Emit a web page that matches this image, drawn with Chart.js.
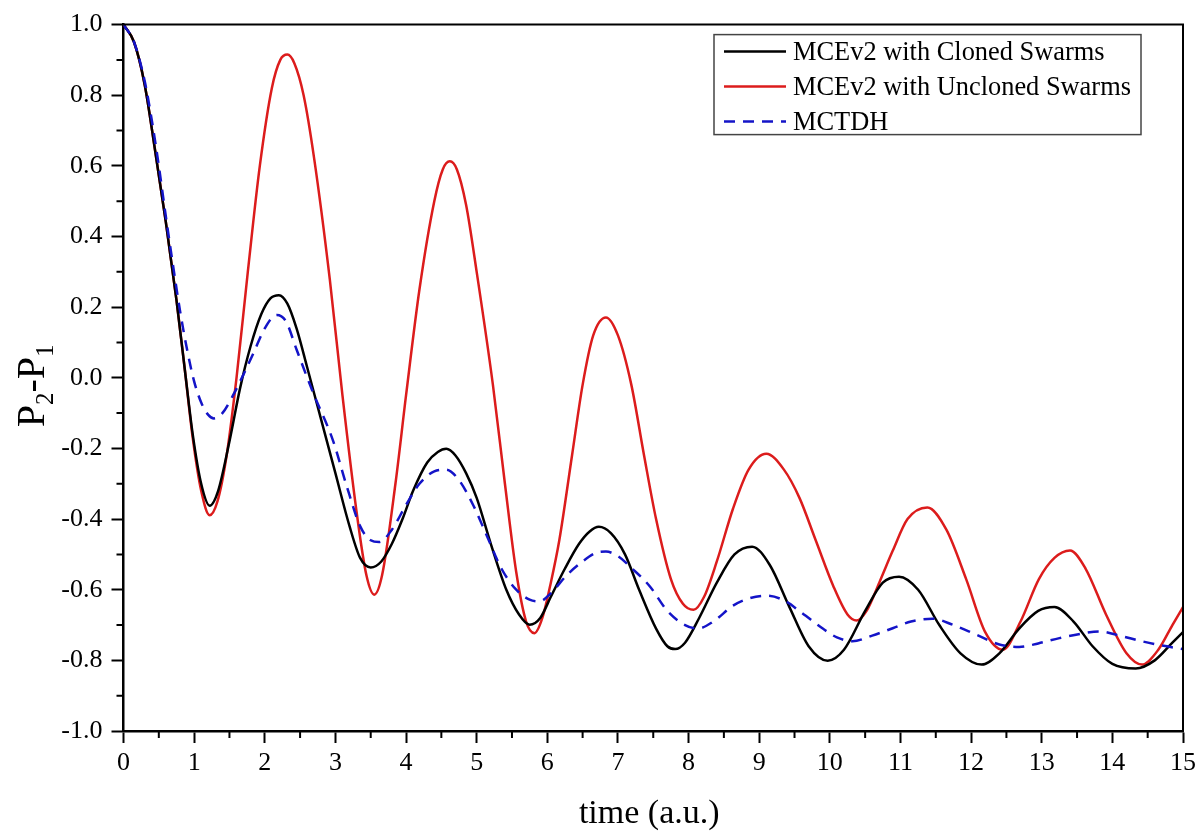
<!DOCTYPE html>
<html>
<head>
<meta charset="utf-8">
<title>P2-P1 vs time</title>
<script src="https://cdn.jsdelivr.net/npm/chart.js@4.4.1/dist/chart.umd.min.js"></script>
<style>
  html, body { margin: 0; padding: 0; background: #fff; }
</style>
</head>
<body>
<canvas id="plot" width="1201" height="831"></canvas>
<script>
// MCEv2, cloned swarms
const clonedTime = [0, 0.15, 0.3, 0.45, 0.6, 0.75, 0.87, 0.98, 1.1, 1.22, 1.34, 1.5, 1.65, 1.8, 1.95, 2.08, 2.2, 2.32, 2.45, 2.6, 2.8, 3.0, 3.2, 3.35, 3.5, 3.65, 3.8, 3.95, 4.1, 4.3, 4.45, 4.57, 4.7, 4.85, 5.0, 5.2, 5.42, 5.6, 5.75, 5.9, 6.05, 6.25, 6.45, 6.6, 6.73, 6.9, 7.1, 7.3, 7.54, 7.7, 7.81, 7.95, 8.15, 8.4, 8.65, 8.9, 9.15, 9.43, 9.7, 9.97, 10.2, 10.5, 10.75, 10.98, 11.25, 11.55, 11.85, 12.15, 12.4, 12.68, 12.95, 13.18, 13.45, 13.72, 14.0, 14.33, 14.6, 14.85, 15];
const clonedP = [1.0, 0.95, 0.83, 0.64, 0.44, 0.22, 0.02, -0.16, -0.3, -0.362, -0.32, -0.18, -0.03, 0.09, 0.18, 0.225, 0.234, 0.21, 0.14, 0.03, -0.12, -0.27, -0.42, -0.51, -0.537, -0.52, -0.47, -0.4, -0.32, -0.24, -0.21, -0.201, -0.22, -0.27, -0.34, -0.47, -0.6, -0.67, -0.699, -0.68, -0.62, -0.54, -0.47, -0.435, -0.422, -0.44, -0.5, -0.6, -0.71, -0.76, -0.768, -0.75, -0.68, -0.58, -0.5, -0.478, -0.53, -0.65, -0.76, -0.801, -0.77, -0.66, -0.58, -0.563, -0.6, -0.7, -0.78, -0.812, -0.78, -0.71, -0.66, -0.649, -0.69, -0.76, -0.81, -0.823, -0.8, -0.75, -0.72];

// MCEv2, uncloned swarms
const unclonedTime = [0, 0.15, 0.3, 0.45, 0.6, 0.75, 0.87, 0.98, 1.1, 1.22, 1.33, 1.46, 1.6, 1.76, 1.93, 2.1, 2.22, 2.32, 2.42, 2.55, 2.7, 2.92, 3.1, 3.3, 3.44, 3.55, 3.66, 3.85, 4.0, 4.19, 4.4, 4.52, 4.62, 4.72, 4.85, 5.0, 5.23, 5.4, 5.56, 5.7, 5.82, 5.93, 6.05, 6.17, 6.35, 6.5, 6.65, 6.83, 7.0, 7.19, 7.37, 7.54, 7.75, 7.92, 8.07, 8.22, 8.4, 8.63, 8.85, 9.1, 9.35, 9.57, 9.8, 10.05, 10.25, 10.38, 10.52, 10.7, 10.89, 11.1, 11.38, 11.65, 11.93, 12.2, 12.45, 12.7, 12.96, 13.18, 13.4, 13.62, 13.91, 14.2, 14.42, 14.65, 14.85, 15];
const unclonedP = [1.0, 0.95, 0.83, 0.64, 0.44, 0.22, 0.02, -0.17, -0.32, -0.389, -0.35, -0.22, 0.0, 0.3, 0.6, 0.82, 0.9, 0.915, 0.89, 0.8, 0.62, 0.28, -0.05, -0.38, -0.56, -0.614, -0.56, -0.3, -0.05, 0.25, 0.5, 0.59, 0.613, 0.59, 0.49, 0.3, -0.02, -0.3, -0.55, -0.69, -0.723, -0.68, -0.58, -0.46, -0.22, -0.02, 0.12, 0.171, 0.12, -0.02, -0.22, -0.4, -0.57, -0.64, -0.657, -0.62, -0.52, -0.37, -0.26, -0.215, -0.26, -0.34, -0.46, -0.59, -0.67, -0.687, -0.66, -0.58, -0.49, -0.4, -0.367, -0.43, -0.57, -0.72, -0.77, -0.69, -0.57, -0.51, -0.489, -0.54, -0.67, -0.78, -0.812, -0.77, -0.7, -0.649];

// MCTDH reference
const mctdhTime = [0, 0.15, 0.3, 0.4, 0.5, 0.59, 0.7, 0.8, 0.9, 1.0, 1.1, 1.2, 1.28, 1.4, 1.55, 1.7, 1.84, 2.0, 2.17, 2.3, 2.45, 2.68, 2.97, 3.15, 3.35, 3.5, 3.62, 3.8, 4.0, 4.19, 4.4, 4.57, 4.75, 4.95, 5.15, 5.35, 5.56, 5.75, 5.89, 6.05, 6.27, 6.5, 6.7, 6.83, 7.0, 7.2, 7.45, 7.7, 7.95, 8.13, 8.35, 8.63, 8.85, 9.1, 9.35, 9.6, 9.9, 10.1, 10.32, 10.6, 10.89, 11.15, 11.45, 11.75, 12.07, 12.4, 12.68, 12.95, 13.25, 13.55, 13.81, 14.1, 14.42, 14.7, 15];
const mctdhP = [1.0, 0.95, 0.84, 0.73, 0.6, 0.47, 0.32, 0.19, 0.08, -0.01, -0.07, -0.105, -0.115, -0.1, -0.05, 0.01, 0.07, 0.14, 0.178, 0.16, 0.08, -0.04, -0.18, -0.3, -0.42, -0.46, -0.465, -0.43, -0.36, -0.3, -0.265, -0.26, -0.29, -0.36, -0.45, -0.54, -0.6, -0.628, -0.633, -0.61, -0.56, -0.52, -0.495, -0.492, -0.505, -0.54, -0.59, -0.66, -0.7, -0.71, -0.69, -0.645, -0.625, -0.617, -0.63, -0.665, -0.71, -0.735, -0.746, -0.73, -0.709, -0.69, -0.682, -0.7, -0.727, -0.755, -0.762, -0.752, -0.737, -0.725, -0.718, -0.73, -0.746, -0.758, -0.768];

const seriesNames = ['MCEv2 with Cloned Swarms', 'MCEv2 with Uncloned Swarms', 'MCTDH'];

const serif = "'Liberation Serif', 'Times New Roman', serif";

const toPoints = (ts, vs) => ts.map((t, i) => ({ x: t, y: vs[i] }));

const isMajorY = v => Math.abs(Math.round(v * 10)) % 2 === 0;
const isMajorX = v => Math.abs(Math.round(v * 2)) % 2 === 0;

// frame, minor ticks, axis titles and the boxed legend
const framePlugin = {
  id: 'frame',
  afterDraw(chart) {
    const { ctx, chartArea: a, scales } = chart;
    ctx.save();
    ctx.strokeStyle = '#000';

    // top and right edges of the box
    ctx.lineWidth = 2;
    ctx.beginPath();
    ctx.moveTo(a.left, a.top);
    ctx.lineTo(a.right, a.top);
    ctx.lineTo(a.right, a.bottom);
    ctx.stroke();

    // minor ticks
    ctx.beginPath();
    for (let k = 1; k < 30; k += 2) {
      const px = scales.x.getPixelForValue(k / 2);
      ctx.moveTo(px, a.bottom);
      ctx.lineTo(px, a.bottom + 7);
    }
    for (let k = -9; k < 10; k += 2) {
      const py = scales.y.getPixelForValue(k / 10);
      ctx.moveTo(a.left, py);
      ctx.lineTo(a.left - 7, py);
    }
    ctx.stroke();

    // x title
    ctx.fillStyle = '#000';
    ctx.font = '34px ' + serif;
    ctx.textAlign = 'center';
    ctx.textBaseline = 'alphabetic';
    ctx.fillText('time (a.u.)', (a.left + a.right) / 2 - 4, 823);

    // y title: P2-P1 with subscripts, rotated
    const big = '40px ' + serif, small = '25px ' + serif;
    const parts = [['P', big, 0], ['2', small, 9], ['-P', big, 0], ['1', small, 9]];
    let total = 0;
    parts.forEach(p => { ctx.font = p[1]; total += ctx.measureText(p[0]).width; });
    ctx.translate(44, (a.top + a.bottom) / 2 + 8);
    ctx.rotate(-Math.PI / 2);
    ctx.textAlign = 'left';
    let u = -total / 2;
    parts.forEach(p => {
      ctx.font = p[1];
      ctx.fillText(p[0], u, p[2]);
      u += ctx.measureText(p[0]).width;
    });
    ctx.restore();

    // legend
    ctx.save();
    const bx = a.right - 469, by = a.top + 10, bw = 427, bh = 100;
    ctx.fillStyle = '#fff';
    ctx.fillRect(bx, by, bw, bh);
    ctx.strokeStyle = '#444';
    ctx.lineWidth = 1.5;
    ctx.strokeRect(bx, by, bw, bh);
    ctx.font = '26.4px ' + serif;
    ctx.textBaseline = 'middle';
    ctx.textAlign = 'left';
    chart.data.datasets.forEach((ds, i) => {
      const yy = by + 17 + i * 35;
      ctx.strokeStyle = ds.borderColor;
      ctx.lineWidth = ds.borderWidth;
      ctx.setLineDash(ds.borderDash || []);
      ctx.beginPath();
      ctx.moveTo(bx + 10, yy);
      ctx.lineTo(bx + 72, yy);
      ctx.stroke();
      ctx.setLineDash([]);
      ctx.fillStyle = '#000';
      ctx.fillText(ds.label, bx + 79, yy + 1);
    });
    ctx.restore();
  }
};

new Chart(document.getElementById('plot'), {
  type: 'line',
  data: {
    datasets: [
      {
        label: seriesNames[0],
        data: toPoints(clonedTime, clonedP),
        borderColor: '#000000',
        borderWidth: 2.5,
        cubicInterpolationMode: 'monotone',
        pointRadius: 0,
        order: 2
      },
      {
        label: seriesNames[1],
        data: toPoints(unclonedTime, unclonedP),
        borderColor: '#dc1c1c',
        borderWidth: 2.5,
        cubicInterpolationMode: 'monotone',
        pointRadius: 0,
        order: 3
      },
      {
        label: seriesNames[2],
        data: toPoints(mctdhTime, mctdhP),
        borderColor: '#1414c8',
        borderWidth: 2.5,
        borderDash: [11, 8],
        cubicInterpolationMode: 'monotone',
        pointRadius: 0,
        order: 1
      }
    ]
  },
  options: {
    responsive: false,
    animation: false,
    layout: { padding: { left: 0, top: 21, right: 17, bottom: 0 } },
    plugins: {
      legend: { display: false },
      tooltip: { enabled: false }
    },
    scales: {
      x: {
        type: 'linear',
        min: 0,
        max: 15,
        afterFit: s => { s.height = 100; },
        border: { display: true, color: '#000', width: 2.5 },
        grid: {
          drawOnChartArea: false,
          drawTicks: true,
          tickLength: 12,
          tickWidth: 2,
          tickColor: c => isMajorX(c.tick.value) ? '#000' : 'rgba(0,0,0,0)'
        },
        ticks: {
          stepSize: 0.5,
          autoSkip: false,
          maxRotation: 0,
          padding: 5,
          color: '#000',
          font: { family: serif, size: 26 },
          callback: v => isMajorX(v) ? String(Math.round(v)) : ''
        }
      },
      y: {
        min: -1,
        max: 1,
        afterFit: s => { s.width = 123.5; },
        border: { display: true, color: '#000', width: 2.5 },
        grid: {
          drawOnChartArea: false,
          drawTicks: true,
          tickLength: 12,
          tickWidth: 2,
          tickColor: c => isMajorY(c.tick.value) ? '#000' : 'rgba(0,0,0,0)'
        },
        ticks: {
          stepSize: 0.1,
          autoSkip: false,
          padding: 9,
          color: '#000',
          font: { family: serif, size: 26 },
          callback: v => isMajorY(v) ? (Math.round(v * 10) / 10).toFixed(1) : ''
        }
      }
    }
  },
  plugins: [framePlugin]
});
</script>
</body>
</html>
